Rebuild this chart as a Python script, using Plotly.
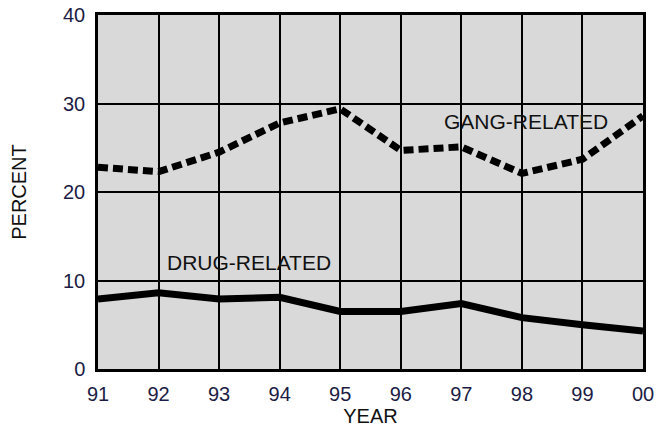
import plotly.graph_objects as go

# Year labels (two-digit) and the share of cases, in percent
years = ["91", "92", "93", "94", "95", "96", "97", "98", "99", "00"]
gang_related = [22.8, 22.3, 24.5, 27.8, 29.4, 24.7, 25.1, 22.1, 23.7, 28.6]
drug_related = [7.9, 8.6, 7.9, 8.1, 6.5, 6.5, 7.4, 5.8, 5.0, 4.3]

y_ticks = [0, 10, 20, 30, 40]

FONT = "Liberation Sans, Arial, Helvetica, sans-serif"
TICK_COLOR = "#1c1c44"
TEXT_COLOR = "#111111"

fig = go.Figure()

fig.add_trace(go.Scatter(
    x=years, y=gang_related, mode="lines",
    line=dict(color="black", width=7, dash="10px,5px"),
    hoverinfo="skip", showlegend=False,
))
fig.add_trace(go.Scatter(
    x=years, y=drug_related, mode="lines",
    line=dict(color="black", width=7),
    hoverinfo="skip", showlegend=False,
))

fig.add_annotation(x=7.06, y=28.0, text="GANG-RELATED", showarrow=False,
                   font=dict(family=FONT, size=21, color=TEXT_COLOR))
fig.add_annotation(x=2.49, y=12.0, text="DRUG-RELATED", showarrow=False,
                   font=dict(family=FONT, size=21, color=TEXT_COLOR))

fig.update_xaxes(
    type="category", range=[0, 9], automargin=False,
    showgrid=True, gridcolor="black", gridwidth=1.5,
    showline=True, linecolor="black", linewidth=2.5, mirror=True,
    ticks="", ticklabelstandoff=5,
    tickfont=dict(family=FONT, size=20, color=TICK_COLOR),
    title=dict(text="YEAR", font=dict(family=FONT, size=20, color=TEXT_COLOR), standoff=2),
    fixedrange=True,
)
fig.update_yaxes(
    range=[0, 40], tickvals=y_ticks, automargin=False,
    showgrid=True, gridcolor="black", gridwidth=1.5, zeroline=False,
    showline=True, linecolor="black", linewidth=2.5, mirror=True,
    ticks="", ticklabelstandoff=6,
    tickfont=dict(family=FONT, size=20, color=TICK_COLOR),
    title=dict(text="PERCENT", font=dict(family=FONT, size=20, color=TEXT_COLOR), standoff=32),
    fixedrange=True,
)

fig.update_layout(
    width=657, height=429,
    margin=dict(l=98, r=14, t=15, b=60),
    plot_bgcolor="#d9d9d9", paper_bgcolor="white",
    font=dict(family=FONT),
)

fig.write_html("out.html", config={"displayModeBar": False})
